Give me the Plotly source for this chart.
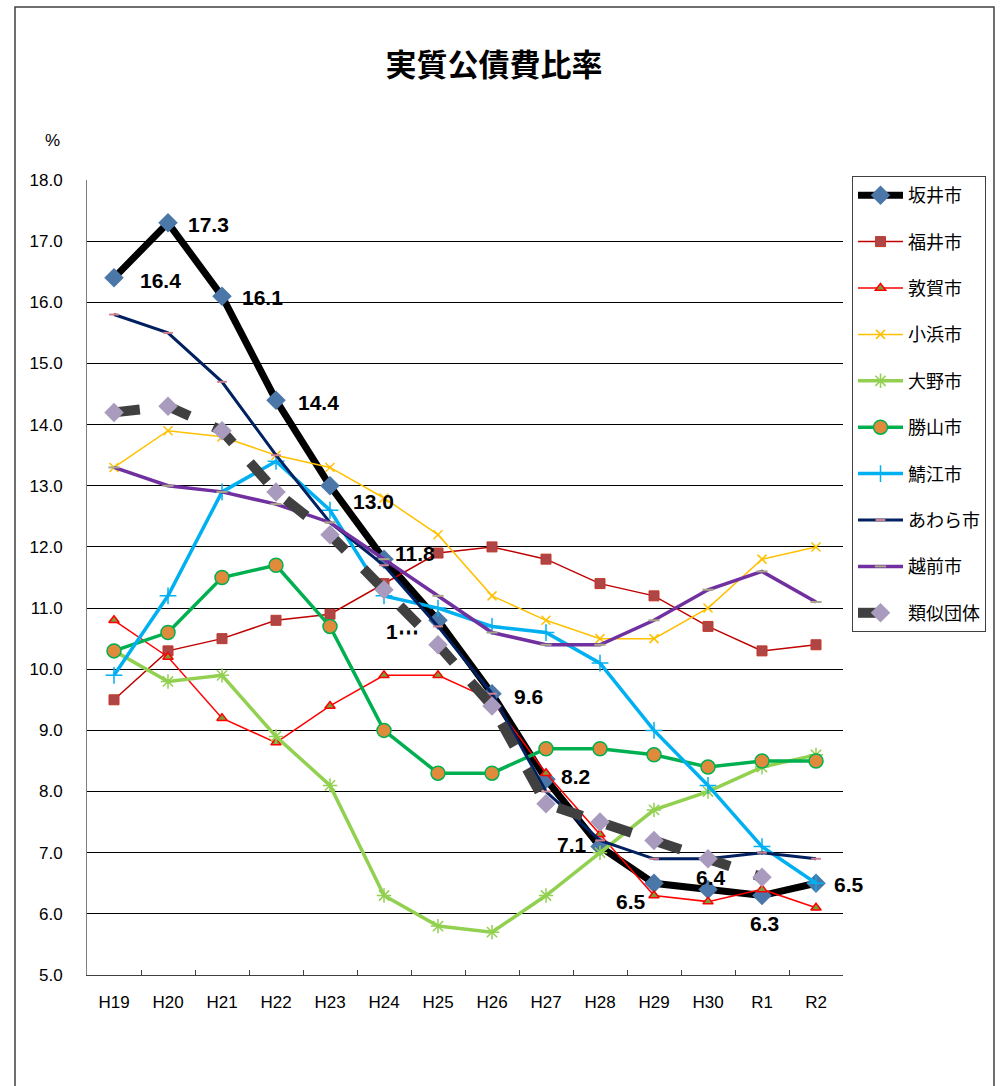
import plotly.graph_objects as go

categories = ["H19", "H20", "H21", "H22", "H23", "H24", "H25", "H26", "H27", "H28", "H29", "H30", "R1", "R2"]

sakai = [16.4, 17.3, 16.1, 14.4, 13.0, 11.8, 10.8, 9.6, 8.2, 7.1, 6.5, 6.4, 6.3, 6.5]
fukui = [9.5, 10.3, 10.5, 10.8, 10.9, 11.4, 11.9, 12.0, 11.8, 11.4, 11.2, 10.7, 10.3, 10.4]
tsuruga = [10.8, 10.2, 9.2, 8.8, 9.4, 9.9, 9.9, 9.5, 8.3, 7.3, 6.3, 6.2, 6.4, 6.1]
obama = [13.3, 13.9, 13.8, 13.5, 13.3, 12.8, 12.2, 11.2, 10.8, 10.5, 10.5, 11.0, 11.8, 12.0]
ono = [10.3, 9.8, 9.9, 8.9, 8.1, 6.3, 5.8, 5.7, 6.3, 7.0, 7.7, 8.0, 8.4, 8.6]
katsuyama = [10.3, 10.6, 11.5, 11.7, 10.7, 9.0, 8.3, 8.3, 8.7, 8.7, 8.6, 8.4, 8.5, 8.5]
sabae = [9.9, 11.2, 12.9, 13.4, 12.6, 11.2, 11.0, 10.7, 10.6, 10.1, 9.0, 8.1, 7.1, 6.5]
awara = [15.8, 15.5, 14.7, 13.5, 12.4, 11.7, 10.7, 9.6, 8.0, 7.2, 6.9, 6.9, 7.0, 6.9]
echizen = [13.3, 13.0, 12.9, 12.7, 12.4, 11.8, 11.2, 10.6, 10.4, 10.4, 10.8, 11.3, 11.6, 11.1]
ruiji = [14.2, 14.3, 13.9, 12.9, 12.2, 11.3, 10.4, 9.4, 7.8, 7.5, 7.2, 6.9, 6.6, None]

sakai_label_text = ["16.4", "17.3", "16.1", "14.4", "13.0", "11.8", "1⋯", "9.6", "8.2", "7.1", "6.5", "6.4", "6.3", "6.5"]

y_ticks = [5.0, 6.0, 7.0, 8.0, 9.0, 10.0, 11.0, 12.0, 13.0, 14.0, 15.0, 16.0, 17.0, 18.0]

# label pixel offsets (layout, not data)
label_shifts = [(46, -3), (40, -2), (40, -1), (42, -2), (43, -16), (31, 6), (-36, -11),
                (36, -3), (29, 3), (-28, 2), (-23, -18), (3, 12), (2, -28), (33, -1)]

CJK = "Noto Sans CJK JP"
LAT = "Liberation Sans, Arial, sans-serif"

fig = go.Figure()

def add(name, y, color, width, symbol, msize, mfill, mline_color, mline_w, dash="solid"):
    fig.add_trace(go.Scatter(
        x=categories, y=y, name=name, mode="lines+markers",
        line=dict(color=color, width=width, dash=dash),
        marker=dict(symbol=symbol, size=msize, color=mfill,
                    line=dict(color=mline_color, width=mline_w)),
        legendgroup=name, connectgaps=False,
    ))

add("坂井市", sakai, "#000000", 7, "diamond", 15, "#4a76a8", "#4a76a8", 0)
add("福井市", fukui, "#c00000", 1.5, "square", 10, "#b04545", "#c0392b", 1)
add("敦賀市", tsuruga, "#ff0000", 1.5, "triangle-up", 9, "#7f9a3a", "#ff0000", 1.5)
add("小浜市", obama, "#ffc000", 1.5, "x-thin-open", 9, "#ffc000", "#ffc000", 1.5)
add("大野市", ono, "#92d050", 3.5, "asterisk-open", 12, "#92d050", "#92d050", 1.5)
add("勝山市", katsuyama, "#00b050", 3.5, "circle", 14, "#e08a3c", "#00b050", 1.5)
add("鯖江市", sabae, "#00b0f0", 3.5, "cross-thin-open", 12, "#00b0f0", "#00b0f0", 1.5)
add("あわら市", awara, "#002060", 3, "line-ew-open", 7, "#d08090", "#d08090", 2)
add("越前市", echizen, "#7030a0", 3.5, "line-ew-open", 8, "#a8a888", "#a8a888", 2)
add("類似団体", ruiji, "#404040", 10, "diamond", 15, "#a99bbd", "#a99bbd", 0, dash="26px,26px")

L, R, T, B = 87, 157, 180, 111
PW, PH = 1000 - L - R, 1086 - T - B

annotations = []
for i, (c, v, t) in enumerate(zip(categories, sakai, sakai_label_text)):
    dx, dy = label_shifts[i]
    annotations.append(dict(
        x=c, y=v, xref="x", yref="y", text=t, showarrow=False,
        xshift=dx, yshift=dy,
        font=dict(family=LAT, size=21, color="#000000", weight="bold"),
    ))
annotations.append(dict(
    x=(52 - L) / PW, y=(1086 - B - 140) / PH, xref="paper", yref="paper",
    xanchor="center", yanchor="middle", text="%", showarrow=False,
    font=dict(family=LAT, size=17, color="#000000"),
))

fig.update_layout(
    width=1000, height=1086,
    margin=dict(l=L, r=R, t=T, b=B),
    paper_bgcolor="#ffffff", plot_bgcolor="#ffffff",
    title=dict(text="<b>実質公債費比率</b>", x=(494) / 1000, xanchor="center",
               y=1 - 65 / 1086, yanchor="middle",
               font=dict(family=CJK, size=31, color="#000000")),
    xaxis=dict(type="category", categoryorder="array", categoryarray=categories,
               range=[-0.5, 13.5], showgrid=False, zeroline=False,
               showline=True, linecolor="#404040", linewidth=1,
               ticks="inside", tickson="boundaries", ticklen=5, tickcolor="#404040",
               tickfont=dict(family="Liberation Sans Narrow, " + LAT, size=17, color="#000000"),
               ticklabelstandoff=12),
    yaxis=dict(range=[5, 18], tickvals=y_ticks, tickformat=".1f",
               showgrid=True, gridcolor="#000000", gridwidth=1,
               zeroline=False, showline=True, linecolor="#808080", linewidth=1,
               ticks="", tickfont=dict(family=LAT, size=17, color="#000000"),
               ticklabelstandoff=20),
    legend=dict(x=(852 - L) / PW, y=(1086 - B - 176) / PH, xanchor="left", yanchor="top",
                bgcolor="#ffffff", bordercolor="#404040", borderwidth=1,
                font=dict(family=CJK, size=18, color="#000000"),
                tracegroupgap=20, itemwidth=45, traceorder="grouped"),
    annotations=annotations,
    shapes=[dict(type="rect", xref="paper", yref="paper",
                 x0=(15 - L) / PW, x1=(994 - L) / PW,
                 y0=(1086 - B - 1100) / PH, y1=(1086 - B - 7) / PH,
                 line=dict(color="#404040", width=1.5), fillcolor="rgba(0,0,0,0)", layer="below")],
    showlegend=True,
)

fig.write_html("out.html")
